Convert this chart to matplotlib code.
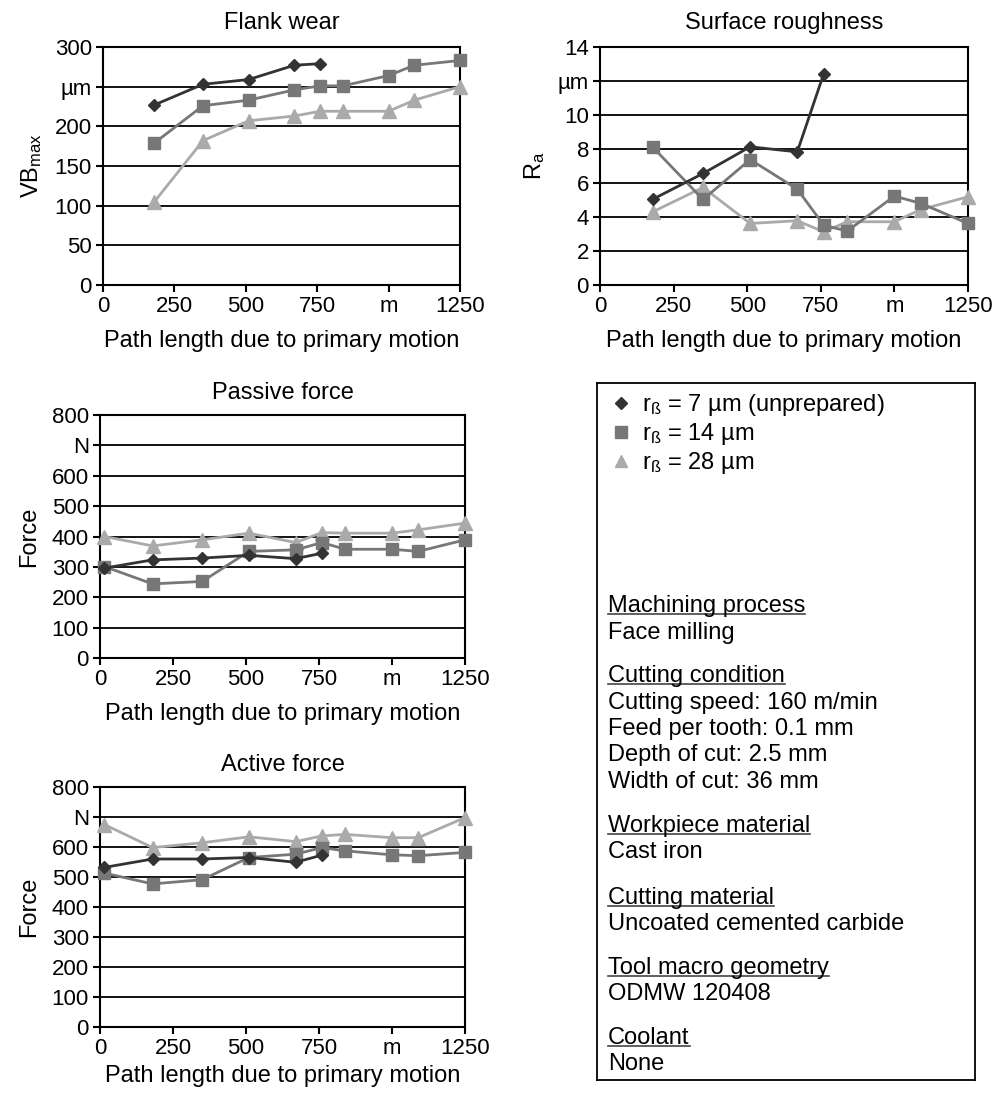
import matplotlib
matplotlib.use("Agg")
import matplotlib.pyplot as plt
from matplotlib.lines import Line2D

plt.rcParams['font.family'] = ['Liberation Sans', 'DejaVu Sans']
plt.rcParams['mathtext.fontset'] = 'custom'
plt.rcParams['mathtext.rm'] = 'Liberation Sans'
plt.rcParams['mathtext.it'] = 'Liberation Sans'

# path length positions (m)
x_main = [180, 350, 510, 670, 760, 840, 1000, 1090, 1250]
x_force = [15, 180, 350, 510, 670, 760, 840, 1000, 1090, 1250]

# flank wear VBmax (um)
vb_r7 = [227, 253, 259, 277, 279]
vb_r14 = [179, 226, 233, 246, 251, 251, 264, 277, 283]
vb_r28 = [105, 182, 207, 213, 219, 219, 219, 233, 250]

# surface roughness Ra (um)
ra_r7 = [5.05, 6.56, 8.13, 7.83, 12.43]
ra_r14 = [8.09, 5.03, 7.38, 5.64, 3.52, 3.17, 5.23, 4.8, 3.62]
ra_r28 = [4.31, 5.74, 3.62, 3.78, 3.13, 3.72, 3.72, 4.44, 5.19]

# passive force (N)
fp_r7 = [296, 323, 329, 338, 327, 345]
fp_r14 = [301, 244, 252, 351, 356, 380, 358, 358, 351, 389]
fp_r28 = [400, 369, 389, 411, 380, 413, 411, 411, 422, 444]

# active force (N)
fa_r7 = [532, 560, 560, 565, 549, 573]
fa_r14 = [513, 477, 491, 565, 576, 598, 587, 574, 571, 582]
fa_r28 = [675, 598, 614, 634, 618, 637, 642, 631, 631, 698]

x_ticks = [0, 250, 500, 750, 1000, 1250]
x_ticklabels = ['0', '250', '500', '750', 'm', '1250']

labels = ['r$_{\\mathregular{ß}}$ = 7 µm (unprepared)',
          'r$_{\\mathregular{ß}}$ = 14 µm',
          'r$_{\\mathregular{ß}}$ = 28 µm']

c7, c14, c28 = '#333333', '#777777', '#aaaaaa'
FS = 17

W, H = 1005, 1093
fig = plt.figure(figsize=(W / 100, H / 100), dpi=100)


def box(l, t, r, b):
    return [l / W, 1 - b / H, (r - l) / W, (b - t) / H]


def make_axes(rect, title, ylabel, yticks, yticklabels, tpad=11.5, xpad=9):
    ax = fig.add_axes(rect)
    ax.set_xlim(0, 1250)
    ax.set_ylim(yticks[0], yticks[-1])
    ax.set_xticks(x_ticks)
    ax.set_xticklabels(x_ticklabels)
    ax.set_yticks(yticks)
    ax.set_yticklabels(yticklabels)
    ax.yaxis.grid(True, color='black', linewidth=1.3)
    ax.set_axisbelow(True)
    for s in ax.spines.values():
        s.set_linewidth(1.5)
    ax.tick_params(labelsize=16, length=5, width=1.5, pad=3)
    ax.set_title(title, fontsize=FS, pad=tpad)
    ax.set_xlabel('Path length due to primary motion', fontsize=FS, labelpad=xpad)
    ax.set_ylabel(ylabel, fontsize=FS, labelpad=8)
    return ax


def draw(ax, x, s7, s14, s28):
    ax.plot(x[:len(s7)], s7, color=c7, marker='D', markersize=6.5, linewidth=2, zorder=5, clip_on=False)
    ax.plot(x, s14, color=c14, marker='s', markersize=9, linewidth=2, zorder=4, clip_on=False)
    ax.plot(x, s28, color=c28, marker='^', markersize=9.5, linewidth=2, zorder=3, clip_on=False)


ax1 = make_axes(box(103, 47, 460, 285), 'Flank wear', 'VB$_{\\mathregular{max}}$',
                [0, 50, 100, 150, 200, 250, 300], ['0', '50', '100', '150', '200', 'µm', '300'], tpad=13)
draw(ax1, x_main, vb_r7, vb_r14, vb_r28)

ax2 = make_axes(box(600, 47, 968, 285), 'Surface roughness', 'R$_{\\mathregular{a}}$',
                [0, 2, 4, 6, 8, 10, 12, 14], ['0', '2', '4', '6', '8', '10', 'µm', '14'], tpad=13)
draw(ax2, x_main, ra_r7, ra_r14, ra_r28)

f_ticks = [0, 100, 200, 300, 400, 500, 600, 700, 800]
f_labels = ['0', '100', '200', '300', '400', '500', '600', 'N', '800']
ax3 = make_axes(box(100, 415, 465, 658), 'Passive force', 'Force', f_ticks, f_labels)
draw(ax3, x_force, fp_r7, fp_r14, fp_r28)

ax4 = make_axes(box(100, 787, 465, 1027), 'Active force', 'Force', f_ticks, f_labels, xpad=4)
draw(ax4, x_force, fa_r7, fa_r14, fa_r28)

# info panel
axb = fig.add_axes(box(597, 383, 975, 1080))
axb.set_xticks([])
axb.set_yticks([])
for s in axb.spines.values():
    s.set_linewidth(1.3)

handles = [Line2D([], [], color=c7, marker='D', markersize=6, linestyle='none'),
           Line2D([], [], color=c14, marker='s', markersize=9, linestyle='none'),
           Line2D([], [], color=c28, marker='^', markersize=9, linestyle='none')]
fig.legend(handles, labels, loc='upper left', bbox_to_anchor=(601 / W, 1 - 383 / H),
           frameon=False, fontsize=FS, handlelength=0.9, handletextpad=0.45,
           labelspacing=0.12, borderaxespad=0)

sections = [
    ('Machining process', ['Face milling'], 606),
    ('Cutting condition', ['Cutting speed: 160 m/min', 'Feed per tooth: 0.1 mm',
                           'Depth of cut: 2.5 mm', 'Width of cut: 36 mm'], 676),
    ('Workpiece material', ['Cast iron'], 826),
    ('Cutting material', ['Uncoated cemented carbide'], 898),
    ('Tool macro geometry', ['ODMW 120408'], 968),
    ('Coolant', ['None'], 1038),
]

heads = []
for head, lines, y in sections:
    t = fig.text(608 / W, 1 - y / H, head, fontsize=FS, va='center', ha='left')
    heads.append(t)
    for i, line in enumerate(lines):
        fig.text(608 / W, 1 - (y + 26.5 * (i + 1)) / H, line, fontsize=FS, va='center', ha='left')

fig.canvas.draw()
r = fig.canvas.get_renderer()
for t in heads:
    bb = t.get_window_extent(renderer=r)
    yb = bb.y0 + 3
    fig.add_artist(Line2D([bb.x0 / W, bb.x1 / W], [yb / H, yb / H], color='#444444', linewidth=1.2))

fig.savefig('out.png', dpi=100)
